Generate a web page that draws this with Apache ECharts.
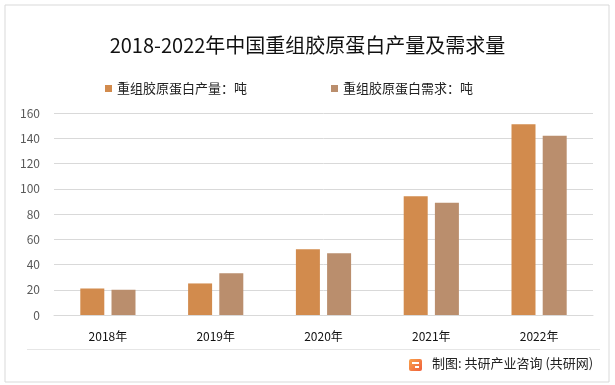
<!DOCTYPE html>
<html><head><meta charset="utf-8">
<script src="https://cdn.jsdelivr.net/npm/echarts@6/dist/echarts.min.js"></script>
<style>html,body{margin:0;padding:0;background:#fff}#c{width:615px;height:385px}</style>
</head><body><div id="c"></div>
<script>
const categories = ['2018年','2019年','2020年','2021年','2022年'];
const production = [21, 25, 52, 94, 151];
const demand = [20, 33, 49, 89, 142];
const seriesNames = ['重组胶原蛋白产量：吨','重组胶原蛋白需求：吨'];
const titleText = '2018-2022年中国重组胶原蛋白产量及需求量';
const sourceText = '制图: 共研产业咨询 (共研网)';

const font = '"Noto Sans CJK SC", "Microsoft YaHei", sans-serif';
const chart = echarts.init(document.getElementById('c'));
chart.setOption({
  backgroundColor: '#fff',
  animation: false,
  title: {
    text: titleText, left: 'center', top: 30,
    textStyle: { fontFamily: font, fontSize: 20, fontWeight: 'normal', color: '#111' }
  },
  legend: {
    top: 77, left: 100, itemGap: 84, itemWidth: 7, itemHeight: 7, icon: 'rect',
    textStyle: { fontFamily: font, fontSize: 13, color: '#222' },
    data: seriesNames
  },
  grid: { left: 54, right: 22, top: 113, bottom: 70 },
  xAxis: {
    type: 'category', data: categories,
    axisLine: { lineStyle: { color: '#d9d9d9' } },
    axisTick: { show: false },
    axisLabel: { fontFamily: font, fontSize: 12, color: '#111', margin: 15 }
  },
  yAxis: {
    type: 'value', min: 0, max: 160, interval: 20,
    axisLine: { show: false }, axisTick: { show: false },
    axisLabel: { fontFamily: font, fontSize: 12, color: '#595959', margin: 14 },
    splitLine: { lineStyle: { color: '#d9d9d9' } }
  },
  series: [
    { name: seriesNames[0], type: 'bar', data: production, barWidth: 24, barGap: '30%',
      itemStyle: { color: '#D28B4D' } },
    { name: seriesNames[1], type: 'bar', data: demand, barWidth: 24,
      itemStyle: { color: '#BA8E6D' } }
  ],
  graphic: [
    { type: 'rect', shape: { x: 5, y: 5, width: 604, height: 377 }, style: { fill: 'none', stroke: '#d9d9d9', lineWidth: 1 }, silent: true },
    { type: 'line', shape: { x1: 27, y1: 349.5, x2: 600, y2: 349.5 }, style: { stroke: '#e6e6e6', lineWidth: 1 }, silent: true },
    { type: 'rect', shape: { x: 409, y: 359, width: 13, height: 12, r: 2 },
      style: { fill: new echarts.graphic.LinearGradient(0, 0, 1, 1, [{offset: 0, color: '#F9A24B'}, {offset: 1, color: '#EF5F3C'}]) } },
    { type: 'rect', shape: { x: 412, y: 362, width: 7, height: 2 }, style: { fill: '#fff' } },
    { type: 'rect', shape: { x: 415, y: 366, width: 4, height: 2 }, style: { fill: '#fff' } },
    { type: 'text', left: 432, top: 357,
      style: { text: sourceText, fontFamily: font, fontSize: 13, fill: '#222' } }
  ]
});
</script></body></html>
